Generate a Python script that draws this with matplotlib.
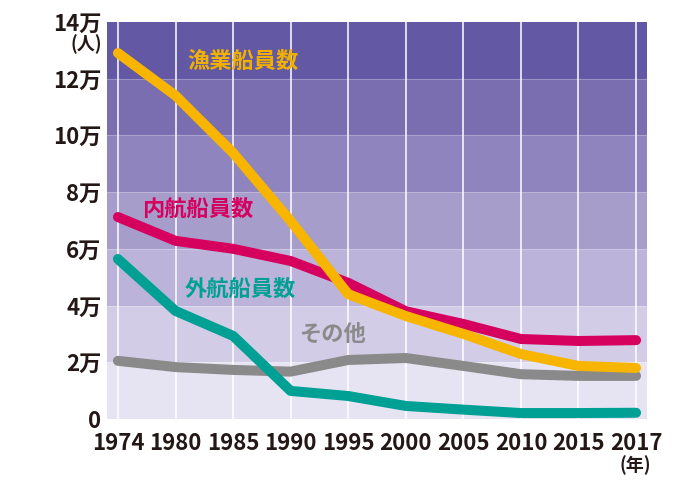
import matplotlib
matplotlib.use("Agg")
import matplotlib.pyplot as plt

years = ["1974", "1980", "1985", "1990", "1995", "2000", "2005", "2010", "2015", "2017"]
fishery = [12.9, 11.4, 9.38, 6.98, 4.4, 3.63, 3.0, 2.29, 1.87, 1.80]
coastal = [7.12, 6.28, 6.0, 5.57, 4.8, 3.8, 3.35, 2.82, 2.75, 2.78]
ocean = [5.64, 3.81, 2.93, 0.99, 0.81, 0.46, 0.33, 0.21, 0.21, 0.22]
other = [2.05, 1.83, 1.73, 1.67, 2.08, 2.15, 1.87, 1.58, 1.52, 1.52]
yticks = [0, 2, 4, 6, 8, 10, 12, 14]
ytick_labels = ["0", "2万", "4万", "6万", "8万", "10万", "12万", "14万"]
series_names = ["漁業船員数", "内航船員数", "外航船員数", "その他"]

band_colors = ["#e6e3f2", "#d2cce6", "#bbb3d9", "#a69dcb", "#8f84bd", "#7a6db0", "#6258a4"]
cjk = ["Noto Sans CJK JP", "DejaVu Sans"]

fig = plt.figure(figsize=(7, 4.8), dpi=100)
ax = fig.add_axes([107/700, 1-419/480, 540/700, 398/480])

x = list(range(len(years)))
for i, c in enumerate(band_colors):
    ax.axhspan(yticks[i], yticks[i] + 2, color=c, lw=0, zorder=0)
    if i > 0:
        ax.axhline(yticks[i], color="white", alpha=0.25, lw=0.8, zorder=0.5)
for xi in x:
    ax.axvline(xi, color="white", lw=1.3, alpha=0.85, zorder=1)

lw = 7.2
ax.plot(x, other, color="#8a8a8a", lw=lw, solid_capstyle="round", solid_joinstyle="round", zorder=2)
ax.plot(x, ocean, color="#00a095", lw=lw, solid_capstyle="round", solid_joinstyle="round", zorder=3)
ax.plot(x, coastal, color="#d6005f", lw=lw, solid_capstyle="round", solid_joinstyle="round", zorder=4)
ax.plot(x, fishery, color="#f8b500", lw=lw, solid_capstyle="round", solid_joinstyle="round", zorder=5)

ax.set_xlim(-0.19, 9.19)
ax.set_ylim(0, 14.03)
ax.set_xticks(x)
ax.set_xticklabels(years, family=cjk, fontsize=16, fontweight="bold", color="#231815")
ax.set_yticks(yticks)
ax.set_yticklabels(ytick_labels, family=cjk, fontsize=16, fontweight="bold", color="#231815")
ax.tick_params(axis="x", length=0, pad=9)
ax.tick_params(axis="y", length=0, pad=4)
for s in ax.spines.values():
    s.set_visible(False)

tk = dict(family=cjk, fontsize=16, fontweight="bold", ha="center", va="center", zorder=6)
ax.text(2.17, 12.6, series_names[0], color="#f0b000", **tk)
ax.text(1.39, 7.4, series_names[1], color="#d6005f", **tk)
ax.text(2.12, 4.58, series_names[2], color="#00a095", **tk)
ax.text(3.72, 3.0, series_names[3], color="#8a8a8a", **tk)

fig.text(86/700, 1-44/480, "(人)", family=cjk, fontsize=13, fontweight="bold", color="#231815", ha="center", va="center")
fig.text(635/700, 1-465/480, "(年)", family=cjk, fontsize=13, fontweight="bold", color="#231815", ha="center", va="center")

fig.savefig("out.png", dpi=100)
